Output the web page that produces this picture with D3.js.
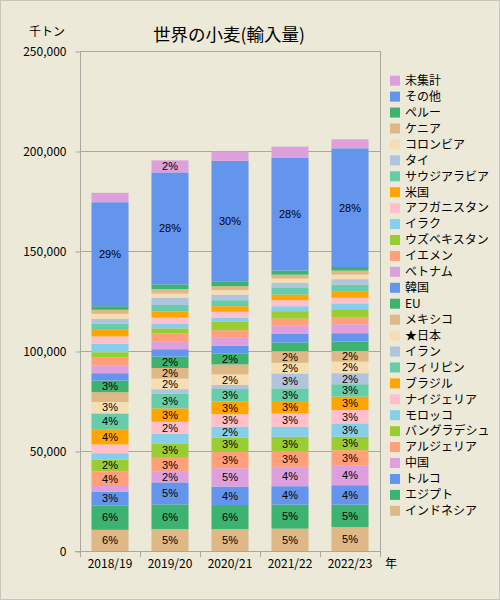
<!DOCTYPE html>
<html>
<head>
<meta charset="utf-8">
<script src="https://cdn.jsdelivr.net/npm/d3@7"></script>
<style>
  html, body { margin: 0; padding: 0; background: #ECE9D8; }
  svg text { font-family: "Noto Sans CJK JP", "Noto Sans", sans-serif; fill: #000; }
  svg text.pct { font-family: "Liberation Sans", "DejaVu Sans", sans-serif; }
</style>
</head>
<body>
<svg id="chart" width="500" height="600"></svg>
<script>
// ---- DATA (thousand tons) ----
const years = ["2018/19", "2019/20", "2020/21", "2021/22", "2022/23"];
// stacking order, bottom to top
const countries = ["インドネシア","エジプト","トルコ","中国","アルジェリア","バングラデシュ","モロッコ","ナイジェリア","ブラジル","フィリピン","イラン","★日本","メキシコ","EU","韓国","ベトナム","イエメン","ウズベキスタン","イラク","アフガニスタン","米国","サウジアラビア","タイ","コロンビア","ケニア","ペルー","その他","未集計"];
const palette = ["#DEB887","#3CB371","#6495ED","#DDA0DD","#FFA07A","#9ACD32","#87CEEB","#FFC0CB","#FFA500","#66CDAA","#B0C4DE","#F5DEB3"];

const v2018 = [10600,12200,6900,2800,7300,5900,3200,4400,7600,7700,300,5600,4900,5800,3700,3800,4200,2500,4200,3700,3300,3000,2500,2500,2000,1800,52000,4700];
const v2019 = [11000,12300,11000,5300,7000,7200,4800,6000,6700,7300,2300,5300,5300,5700,3700,3700,4200,2500,2200,3200,3000,3300,3700,2000,2300,2300,56000,6000];
const v2020 = [11000,12000,9200,9200,8300,7000,5500,6200,6300,6300,2000,5300,5000,5500,3800,4000,3800,4200,2000,3000,2800,3000,2800,2200,2000,2200,60500,4650];
const v2021 = [11200,12000,9200,9700,7800,7200,5000,6700,6200,6300,7500,5300,5800,4300,4500,4200,3300,3700,2500,3000,2800,3300,2700,2000,2000,2000,56350,5650];
const v2022 = [12000,11200,9700,9700,7800,6700,6700,6700,6700,6200,5500,5800,5300,4700,4200,4500,3300,3800,3300,2800,3300,3300,2700,2300,2000,1800,59350,4500];

// share labels shown on the chart (%), null = not shown
const N = null;
const p2018 = [6,6,3,N,4,2,N,N,4,4,N,3,N,3,N,N,N,N,N,N,N,N,N,N,N,N,29,N];
const p2019 = [5,6,5,2,3,3,N,2,3,3,N,2,2,2,N,N,N,N,N,N,N,N,N,N,N,N,28,2];
const p2020 = [5,6,4,5,3,3,2,3,3,3,N,2,N,2,N,N,N,N,N,N,N,N,N,N,N,N,30,N];
const p2021 = [5,5,4,4,3,3,N,3,3,3,3,2,2,N,N,N,N,N,N,N,N,N,N,N,N,N,28,N];
const p2022 = [5,5,4,4,3,3,3,3,3,3,2,2,2,N,N,N,N,N,N,N,N,N,N,N,N,N,28,N];

const yTicks = [0, 50000, 100000, 150000, 200000, 250000];

// ---- BUILD TABLE ----
const valuesByYear = [v2018, v2019, v2020, v2021, v2022];
const pctByYear = [p2018, p2019, p2020, p2021, p2022];
const table = years.map((yr, i) => {
  const row = { year: yr };
  countries.forEach((c, j) => { row[c] = valuesByYear[i][j]; });
  return row;
});
const stacked = d3.stack().keys(countries)(table);
const color = d3.scaleOrdinal().domain(countries).range(countries.map((c, i) => palette[i % palette.length]));

// ---- LAYOUT ----
const svg = d3.select("#chart");
const pL = 80, pR = 380, pT = 51, pB = 551;

svg.append("rect").attr("x", 0).attr("y", 0).attr("width", 500).attr("height", 600).attr("fill", "#ECE9D8");

const x = d3.scaleBand().domain(years).range([pL, pR]).paddingInner(0.383).paddingOuter(0.1915);
const y = d3.scaleLinear().domain([0, 250000]).range([pB, pT]);

// gridlines
svg.append("g").selectAll("line").data(yTicks.filter(t => t > 0)).join("line")
  .attr("x1", pL).attr("x2", pR)
  .attr("y1", d => y(d) + 0.5).attr("y2", d => y(d) + 0.5)
  .attr("stroke", "#A8A8A0").attr("stroke-width", 1);

// right border of plot
svg.append("line").attr("x1", pR + 0.5).attr("x2", pR + 0.5)
  .attr("y1", pT).attr("y2", pB).attr("stroke", "#A8A8A0");

// bars
const layer = svg.append("g").selectAll("g").data(stacked).join("g")
  .attr("fill", d => color(d.key));
layer.selectAll("rect").data(d => d).join("rect")
  .attr("x", d => x(d.data.year))
  .attr("width", x.bandwidth())
  .attr("y", d => y(d[1]))
  .attr("height", d => y(d[0]) - y(d[1]));

// percentage labels
const labelData = [];
stacked.forEach((s, j) => {
  s.forEach((d, i) => {
    const p = pctByYear[i][j];
    if (p !== null) labelData.push({ year: d.data.year, mid: (d[0] + d[1]) / 2, text: p + "%" });
  });
});
svg.append("g").selectAll("text").data(labelData).join("text")
  .attr("class", "pct")
  .attr("x", d => x(d.year) + x.bandwidth() / 2)
  .attr("y", d => y(d.mid))
  .attr("dy", "0.35em")
  .attr("text-anchor", "middle")
  .attr("font-size", 11)
  .text(d => d.text);

// y axis
const yAxis = d3.axisLeft(y).tickValues(yTicks).tickFormat(d3.format(",")).tickSize(5).tickPadding(9);
const gy = svg.append("g").attr("transform", `translate(${pL + 0.5},0.5)`).call(yAxis);
gy.select(".domain").attr("stroke", "#A8A8A0").attr("d", `M0,${pT}V${pB}`);
gy.selectAll(".tick line").attr("stroke", "#A8A8A0");
gy.selectAll(".tick text").attr("font-size", 12).attr("font-family", "'Noto Sans CJK JP', sans-serif").attr("fill", "#000");

// x axis
const xEdges = years.map(yv => x(yv) - x.step() * x.paddingInner() / 2).concat([pR]);
const gx = svg.append("g");
gx.append("line").attr("x1", pL - 5).attr("x2", pR).attr("y1", pB + 0.5).attr("y2", pB + 0.5).attr("stroke", "#A8A8A0");
gx.selectAll("line.tick").data(xEdges).join("line").attr("class", "tick")
  .attr("x1", d => Math.round(d) + 0.5).attr("x2", d => Math.round(d) + 0.5)
  .attr("y1", pB).attr("y2", pB + 6).attr("stroke", "#A8A8A0");
gx.selectAll("text").data(years).join("text")
  .attr("x", d => x(d) + x.bandwidth() / 2)
  .attr("y", pB + 13)
  .attr("dy", "0.36em")
  .attr("text-anchor", "middle")
  .attr("font-size", 12)
  .text(d => d);
svg.append("text").attr("x", 385).attr("y", pB + 13).attr("dy", "0.36em").attr("font-size", 12).text("年");

// unit & title
svg.append("text").attr("x", 47).attr("y", 32).attr("dy", "0.36em").attr("text-anchor", "middle").attr("font-size", 12).text("千トン");
svg.append("text").attr("x", 229).attr("y", 35).attr("dy", "0.36em").attr("text-anchor", "middle").attr("font-size", 17.5).text("世界の小麦(輸入量)");

// legend (top item = top of stack)
const legendItems = countries.slice().reverse();
const lg = svg.append("g").selectAll("g").data(legendItems).join("g")
  .attr("transform", (d, i) => `translate(390, ${80.7 + i * 15.93})`);
lg.append("rect").attr("x", 0).attr("y", -5).attr("width", 10).attr("height", 10).attr("fill", d => color(d));
lg.append("text").attr("x", 15).attr("y", 0).attr("dy", "0.36em").attr("font-size", 12).text(d => d);

// outer frame
svg.append("rect").attr("x", 0.5).attr("y", 0.5).attr("width", 499).attr("height", 599)
  .attr("fill", "none").attr("stroke", "#C8C6B8");
</script>
</body>
</html>
